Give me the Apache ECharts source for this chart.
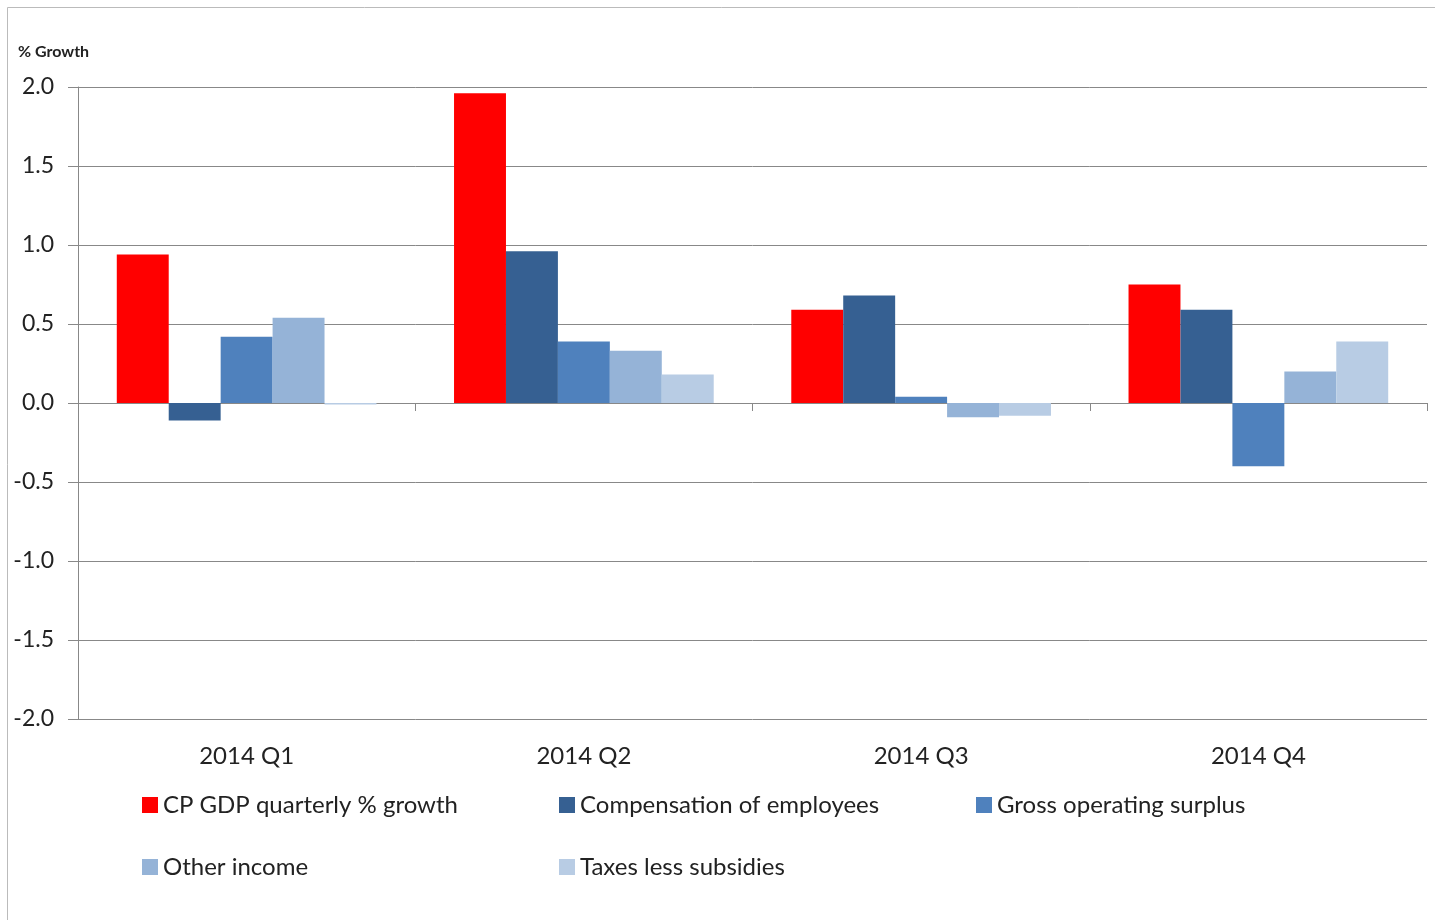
<!DOCTYPE html>
<html><head><meta charset="utf-8">
<script src="https://cdn.jsdelivr.net/npm/echarts@6/dist/echarts.min.js"></script>
<style>html,body{margin:0;padding:0;background:#fff}#c{width:1435px;height:920px}</style>
</head><body><div id="c"></div>
<script>
var categories = ['2014 Q1', '2014 Q2', '2014 Q3', '2014 Q4'];
var seriesNames = ['CP GDP quarterly % growth', 'Compensation of employees', 'Gross operating surplus', 'Other income', 'Taxes less subsidies'];
var cpGdp = [0.94, 1.96, 0.59, 0.75];
var compensation = [-0.11, 0.96, 0.68, 0.59];
var grossSurplus = [0.42, 0.39, 0.04, -0.40];
var otherIncome = [0.54, 0.33, -0.09, 0.20];
var taxesLessSubsidies = [-0.01, 0.18, -0.08, 0.39];
var yTicks = [-2.0, -1.5, -1.0, -0.5, 0.0, 0.5, 1.0, 1.5, 2.0];

var colors = ['#ff0000', '#366092', '#4f81bd', '#95b3d7', '#b8cce4'];
var values = [cpGdp, compensation, grossSurplus, otherIncome, taxesLessSubsidies];
var FONT = 'Lato';

var chart = echarts.init(document.getElementById('c'));
var series = seriesNames.map(function (n, i) {
  return {
    name: n, type: 'bar', data: values[i], xAxisIndex: 0,
    barGap: '0%', barCategoryGap: '23%',
    itemStyle: { color: colors[i] }
  };
});
function legendCfg(names, left) {
  return {
    data: names, orient: 'vertical', left: left, top: 788, itemGap: 38,
    itemWidth: 16, itemHeight: 16, icon: 'rect',
    textStyle: { fontFamily: FONT, fontSize: 24, color: '#222', padding: [0, 0, 0, 0] }
  };
}
chart.setOption({
  animation: false,
  color: colors,
  graphic: [{ type: 'rect', shape: { x: 7.5, y: 7.5, width: 1440, height: 930 }, style: { fill: 'none', stroke: '#bbbbbb', lineWidth: 1 }, z: -1 }],
  title: { text: '% Growth', left: 13, top: 39, textStyle: { fontFamily: FONT, fontSize: 16, fontWeight: 'bold', color: '#222' } },
  legend: [
    legendCfg([seriesNames[0], seriesNames[3]], 137),
    legendCfg([seriesNames[1], seriesNames[4]], 554),
    legendCfg([seriesNames[2]], 971)
  ],
  grid: { left: 78, right: 8, top: 87, bottom: 201, containLabel: false },
  xAxis: [
    { type: 'category', data: categories, axisLine: { onZero: true, lineStyle: { color: '#888', width: 1 } },
      axisTick: { show: true, length: 8, lineStyle: { color: '#888' } }, axisLabel: { show: false }, splitLine: { show: false } },
    { type: 'category', data: categories, position: 'bottom', axisLine: { show: false, onZero: false },
      axisTick: { show: false }, axisLabel: { fontFamily: FONT, fontSize: 24, color: '#222', margin: 25 } }
  ],
  yAxis: {
    type: 'value', min: -2, max: 2, interval: 0.5,
    axisLine: { show: true, lineStyle: { color: '#888' } },
    axisTick: { show: true, length: 10, lineStyle: { color: '#888' } },
    axisLabel: { fontFamily: FONT, fontSize: 23, color: '#222', margin: 24,
      formatter: function (v) { return v.toFixed(1); } },
    splitLine: { lineStyle: { color: '#888', width: 1 } }
  },
  series: series
});
</script></body></html>
